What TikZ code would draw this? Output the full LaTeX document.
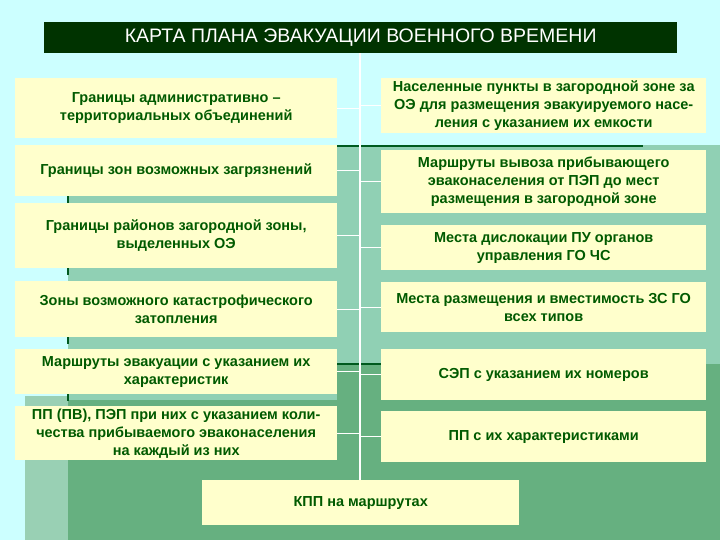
\documentclass[tikz,border=0pt]{standalone}
\usepackage{fontspec}
\setmainfont{Liberation Sans}
\begin{document}
\begin{tikzpicture}[x=1pt,y=-1pt,
  box/.style={fill={rgb,255:red,255;green,255;blue,204}, inner sep=0pt, align=center, text=textg, font=\bfseries\fontsize{14.5}{18}\selectfont, anchor=north west},
  link/.style={white, line width=1.3pt}]
\definecolor{bgc}{RGB}{204,255,255}
\definecolor{midg}{RGB}{144,208,180}
\definecolor{darkg}{RGB}{102,176,128}
\definecolor{paleg}{RGB}{153,208,180}
\definecolor{lineg}{RGB}{0,90,30}
\definecolor{titleg}{RGB}{0,51,0}
\definecolor{textg}{RGB}{0,90,0}
\useasboundingbox (0,0) rectangle (720,540);
\fill[bgc] (0,0) rectangle (720,540);
\fill[midg] (68,145) rectangle (720,540);
\fill[darkg] (337,364) -- (720,364) -- (720,540) -- (68,540) -- (68,400) -- (337,400) -- cycle;
\fill[paleg] (25,396) rectangle (68,540);
\draw[lineg, line width=2.5pt] (67,146) -- (643,146);
\draw[lineg, line width=2.5pt] (337,364) -- (381,364);
\foreach \y in {196,268,337,394} \draw[lineg, line width=2.5pt] (68,\y) -- (68,\y+7);
\node[fill=titleg, text=white, minimum width=633pt, minimum height=31pt, inner sep=0pt, anchor=north west, font=\fontsize{19.5}{22}\selectfont] (t) at (44,22) {КАРТА ПЛАНА ЭВАКУАЦИИ ВОЕННОГО ВРЕМЕНИ};
\node[box, minimum width=322pt, minimum height=60pt] (l1) at (15,78) {Границы административно –\\территориальных объединений};
\node[box, minimum width=322pt, minimum height=51pt] (l2) at (15,145) {Границы зон возможных загрязнений};
\node[box, minimum width=322pt, minimum height=65pt] (l3) at (15,203) {Границы районов загородной зоны,\\выделенных ОЭ};
\node[box, minimum width=322pt, minimum height=56pt] (l4) at (15,281) {Зоны возможного катастрофического\\затопления};
\node[box, minimum width=322pt, minimum height=45pt] (l5) at (15,349) {Маршруты эвакуации с указанием их\\характеристик};
\node[box, minimum width=322pt, minimum height=54pt] (l6) at (15,406) {ПП (ПВ), ПЭП при них с указанием коли-\\чества прибываемого эваконаселения\\на каждый из них};
\node[box, minimum width=325pt, minimum height=55pt] (r1) at (381,78) {Населенные пункты в загородной зоне за\\ОЭ для размещения эвакуируемого насе-\\ления с указанием их емкости};
\node[box, minimum width=325pt, minimum height=63pt] (r2) at (381,150) {Маршруты вывоза прибывающего\\эваконаселения от ПЭП до мест\\размещения в загородной зоне};
\node[box, minimum width=325pt, minimum height=45pt] (r3) at (381,225) {Места дислокации ПУ органов\\управления ГО ЧС};
\node[box, minimum width=325pt, minimum height=50pt] (r4) at (381,282) {Места размещения и вместимость ЗС ГО\\всех типов};
\node[box, minimum width=325pt, minimum height=51pt] (r5) at (381,349) {СЭП с указанием их номеров};
\node[box, minimum width=325pt, minimum height=51pt] (r6) at (381,411) {ПП с их характеристиками};
\node[box, minimum width=317pt, minimum height=45pt] (k) at (202,480) {КПП на маршрутах};
\coordinate (c) at (360,0);
\draw[link] (t.south -| c) -- (k.north -| c);
\foreach \n in {l1,l2,l3,l4,l5,l6} \draw[link] (\n.east) -- (\n.east -| c);
\foreach \n in {r1,r2,r3,r4,r5,r6} \draw[link] (\n.west) -- (\n.west -| c);
\end{tikzpicture}
\end{document}
